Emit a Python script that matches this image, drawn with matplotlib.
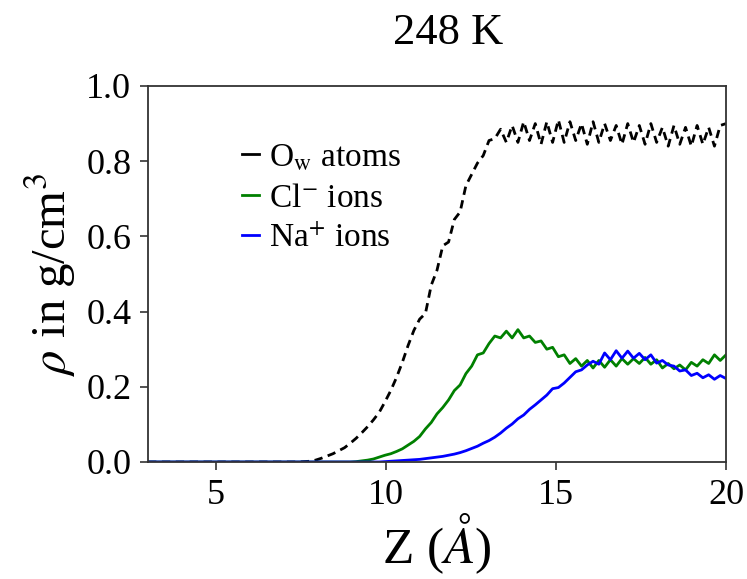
import numpy as np
import matplotlib
matplotlib.use("Agg")
import matplotlib.pyplot as plt

plt.rcParams['font.family'] = ['Liberation Serif', 'DejaVu Serif']
plt.rcParams['mathtext.fontset'] = 'stix'

# Z grid (Angstrom), 101 samples from 3 to 20
z = np.linspace(3.0, 20.0, 101)

rho_ow = [
    0.0, 0.0, 0.0, 0.0, 0.0, 0.0, 0.0, 0.0, 0.0, 0.0,
    0.0, 0.0, 0.0, 0.0, 0.0, 0.0, 0.0, 0.0, 0.0, 0.0,
    0.0, 0.0, 0.0, 0.0, 0.0, 0.0, 0.0, 0.001, 0.002, 0.005,
    0.010, 0.016, 0.022, 0.030, 0.038, 0.050, 0.063, 0.078, 0.094, 0.112,
    0.132, 0.160, 0.190, 0.225, 0.265, 0.310, 0.350, 0.380, 0.395, 0.470,
    0.510, 0.575, 0.585, 0.645, 0.665, 0.735, 0.765, 0.795, 0.815, 0.855,
    0.860, 0.885, 0.850, 0.895, 0.850, 0.905, 0.855, 0.900, 0.845, 0.905,
    0.850, 0.910, 0.850, 0.905, 0.855, 0.900, 0.845, 0.905, 0.850, 0.900,
    0.855, 0.895, 0.845, 0.900, 0.850, 0.895, 0.845, 0.900, 0.850, 0.890,
    0.840, 0.895, 0.845, 0.890, 0.840, 0.895, 0.845, 0.890, 0.840, 0.895,
    0.900,
]

rho_cl = [
    0.0, 0.0, 0.0, 0.0, 0.0, 0.0, 0.0, 0.0, 0.0, 0.0,
    0.0, 0.0, 0.0, 0.0, 0.0, 0.0, 0.0, 0.0, 0.0, 0.0,
    0.0, 0.0, 0.0, 0.0, 0.0, 0.0, 0.0, 0.0, 0.0, 0.0,
    0.0, 0.0, 0.0, 0.0, 0.0, 0.0, 0.001, 0.003, 0.005, 0.008,
    0.013, 0.018, 0.022, 0.028, 0.035, 0.045, 0.055, 0.068, 0.088, 0.105,
    0.128, 0.145, 0.165, 0.190, 0.205, 0.235, 0.255, 0.285, 0.290, 0.315,
    0.335, 0.330, 0.348, 0.330, 0.352, 0.330, 0.335, 0.318, 0.322, 0.300,
    0.305, 0.280, 0.285, 0.262, 0.275, 0.255, 0.270, 0.250, 0.270, 0.252,
    0.272, 0.255, 0.275, 0.260, 0.275, 0.262, 0.278, 0.260, 0.272, 0.250,
    0.262, 0.248, 0.258, 0.245, 0.265, 0.255, 0.272, 0.262, 0.285, 0.270,
    0.285,
]

rho_na = [
    0.0, 0.0, 0.0, 0.0, 0.0, 0.0, 0.0, 0.0, 0.0, 0.0,
    0.0, 0.0, 0.0, 0.0, 0.0, 0.0, 0.0, 0.0, 0.0, 0.0,
    0.0, 0.0, 0.0, 0.0, 0.0, 0.0, 0.0, 0.0, 0.0, 0.0,
    0.0, 0.0, 0.0, 0.0, 0.0, 0.0, 0.0, 0.0, 0.0, 0.0,
    0.0, 0.001, 0.002, 0.003, 0.004, 0.005, 0.006, 0.007, 0.009, 0.011,
    0.013, 0.015, 0.018, 0.021, 0.025, 0.030, 0.036, 0.042, 0.050, 0.057,
    0.066, 0.077, 0.090, 0.101, 0.115, 0.125, 0.140, 0.152, 0.165, 0.178,
    0.195, 0.198, 0.210, 0.225, 0.240, 0.245, 0.258, 0.268, 0.260, 0.290,
    0.272, 0.296, 0.276, 0.295, 0.276, 0.289, 0.272, 0.285, 0.263, 0.270,
    0.258, 0.255, 0.242, 0.245, 0.230, 0.236, 0.224, 0.232, 0.220, 0.230,
    0.222,
]

labels = [r"O$_{\mathrm{w}}$ atoms", r"Cl$^{-}$ ions", r"Na$^{+}$ ions"]
title = "248 K"

fig = plt.figure(figsize=(7.47, 5.79), dpi=100)
ax = fig.add_axes([148/747, 1-462/579, 578/747, 376/579])

ax.plot(z, rho_ow, color='black', ls='--', dashes=(3.0, 2.0), lw=2.0, label=labels[0])
ax.plot(z, rho_cl, color='green', lw=2.0, label=labels[1])
ax.plot(z, rho_na, color='blue', lw=2.0, label=labels[2])

ax.set_xlim(3, 20)
ax.set_ylim(0, 1.0)
ax.set_xticks([5, 10, 15, 20])
ax.set_yticks([0.0, 0.2, 0.4, 0.6, 0.8, 1.0])
ax.set_yticklabels(["0.0", "0.2", "0.4", "0.6", "0.8", "1.0"])
ax.tick_params(axis='both', labelsize=26, direction='out', length=6, width=1.2,
               color='#333333', pad=6)
for s in ax.spines.values():
    s.set_linewidth(1.3)
    s.set_color('#333333')

ax.set_xlabel(r"Z ($Å$)", fontsize=37, labelpad=0)
ax.set_ylabel(r"$\rho$ in g/cm$^{3}$", fontsize=35, labelpad=6)
ax.set_title(title, fontsize=32, pad=30, x=0.52)

leg = ax.legend(loc='upper left', bbox_to_anchor=(0.14, 0.885), frameon=False,
                fontsize=24, handlelength=0.5, handletextpad=0.3,
                labelspacing=0.3, borderaxespad=0)
for ln in leg.get_lines():
    ln.set_linestyle('-')
    ln.set_linewidth(2.0)

fig.savefig("out.png", dpi=100)
